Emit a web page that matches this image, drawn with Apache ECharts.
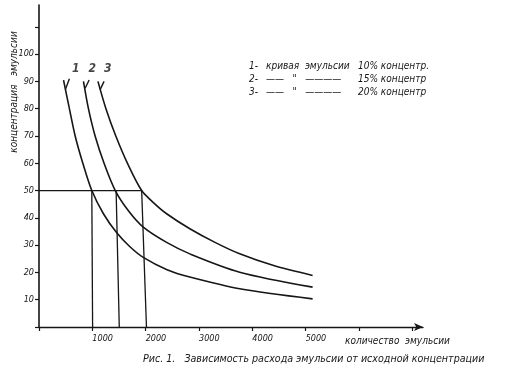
<!DOCTYPE html>
<html><head><meta charset="utf-8">
<script src="https://cdn.jsdelivr.net/npm/echarts@6/dist/echarts.min.js"></script>
<style>html,body{margin:0;padding:0;background:#fff}#c{width:508px;height:378px}</style>
</head><body><div id="c"></div>
<script>
// x tick labels shown / y tick labels shown
const xLabels = [1000, 2000, 3000, 4000, 5000];
const yLabels = [10, 20, 30, 40, 50, 60, 70, 80, 90, 100];
// curves: [quantity, concentration]
const curve1 = [[460,90.5],[570,80],[678,70],[822,60],[990,50],[1208,41.5],[1458,34.5],[1700,29.5],[1955,25.5],[2400,21],[2828,18.3],[3763,14],[5130,10.3]];
const curve2 = [[834,90],[927,80],[1052,70],[1220,60],[1430,50],[1680,42.5],[1955,36.6],[2393,31],[2828,26.8],[3763,20.1],[5130,14.6]];
const curve3 = [[1105,90],[1255,80],[1440,70],[1670,59.5],[1925,50],[2150,45.5],[2393,41.5],[2828,36],[3300,31],[3763,26.8],[4400,22.5],[5130,18.9]];
// guide lines at level 50
const guideLevel = 50;
const guideTop = [990, 1446, 1925];
const guideBottom = [1005, 1505, 2015];
// curve number leaders and labels
const curveNames = ['1', '2', '3'];
const leaderFrom = [[495,87],[865,87.5],[1146,87]];
const leaderTo = [[570,91],[940,90.5],[1220,90]];
const namePos = [[690,94.5],[1000,94.5],[1290,94.5]];
// texts
const yName = 'концентрация   эмульсии';
const xName = 'количество  эмульсии';
const caption = 'Рис. 1.   Зависимость расхода эмульсии от исходной концентрации';
const legendNums = ['1-', '2-', '3-'];
const legendDesc = ['кривая  эмульсии', '——   "   ————', '——   "   ————'];
const legendConc = ['10% концентр.', '15% концентр', '20% концентр'];

const ink = '#161616';
const FF = '"DejaVu Sans Condensed","DejaVu Sans",sans-serif';
const font = (s) => 'italic ' + s + 'px ' + FF;

const series = [];
[curve1, curve2, curve3].forEach((c, i) => {
  series.push({type:'line', name:'c'+(i+1), data:c, smooth:0.3, showSymbol:false,
    lineStyle:{color:ink, width:1.6}, silent:true});
});
guideTop.forEach((t, i) => {
  series.push({type:'line', data:[[t, guideLevel],[guideBottom[i], 0]], showSymbol:false,
    lineStyle:{color:ink, width:1.3}, silent:true});
});
series.push({type:'line', data:[[0, guideLevel],[guideTop[2], guideLevel]], showSymbol:false,
  lineStyle:{color:ink, width:1.3}, silent:true});
leaderFrom.forEach((f, i) => {
  series.push({type:'line', data:[f, leaderTo[i]], showSymbol:false,
    lineStyle:{color:ink, width:1.4}, silent:true});
});
series.push({type:'scatter', symbolSize:0, silent:true,
  data: namePos.map((p, i) => ({value:p, name:curveNames[i]})),
  label:{show:true, position:'inside', formatter:'{b}', color:ink, fontStyle:'italic', fontWeight:'bold',
    fontFamily:FF, fontSize:12}});

const graphics = [];
graphics.push({type:'text', x:14, y:92, rotation:Math.PI/2,
  style:{text:yName, font:font(10), fill:ink, align:'center', verticalAlign:'middle'}});
graphics.push({type:'text', x:345, y:341,
  style:{text:xName, font:font(10), fill:ink, align:'left', verticalAlign:'middle'}});
graphics.push({type:'text', x:143, y:359,
  style:{text:caption, font:font(10.6), fill:ink, align:'left', verticalAlign:'middle'}});
const ly = [66, 79, 92];
legendNums.forEach((n, i) => {
  graphics.push({type:'text', x:249, y:ly[i], style:{text:n, font:font(10), fill:ink, verticalAlign:'middle'}});
  graphics.push({type:'text', x:266, y:ly[i], style:{text:legendDesc[i], font:font(10), fill:ink, verticalAlign:'middle'}});
  graphics.push({type:'text', x:358, y:ly[i], style:{text:legendConc[i], font:font(10), fill:ink, verticalAlign:'middle'}});
});

const chart = echarts.init(document.getElementById('c'), null, {renderer:'canvas'});
chart.setOption({
  backgroundColor:'#fff',
  animation:false,
  grid:{left:39, right:85, top:5, bottom:51},
  xAxis:{type:'value', min:0, max:7200, interval:1000,
    axisLine:{show:true, symbol:['none','arrow'], symbolSize:[6,9], lineStyle:{color:ink, width:1.4}},
    axisTick:{show:true, length:4, lineStyle:{color:ink, width:1.2}},
    splitLine:{show:false},
    axisLabel:{show:true, margin:7, color:ink, fontStyle:'italic', fontFamily:FF, fontSize:9, align:'left',
      showMaxLabel:false,
      formatter:(v) => xLabels.indexOf(v) >= 0 ? String(v) : ''}},
  yAxis:{type:'value', min:0, max:118, interval:10,
    axisLine:{show:true, lineStyle:{color:ink, width:1.6}},
    axisTick:{show:true, length:4, lineStyle:{color:ink, width:1.2}},
    splitLine:{show:false},
    axisLabel:{show:true, margin:5, color:ink, fontStyle:'italic', fontFamily:FF, fontSize:9,
      showMaxLabel:false,
      formatter:(v) => yLabels.indexOf(v) >= 0 ? String(v) : ''}},
  series: series,
  graphic: graphics
});
</script></body></html>
